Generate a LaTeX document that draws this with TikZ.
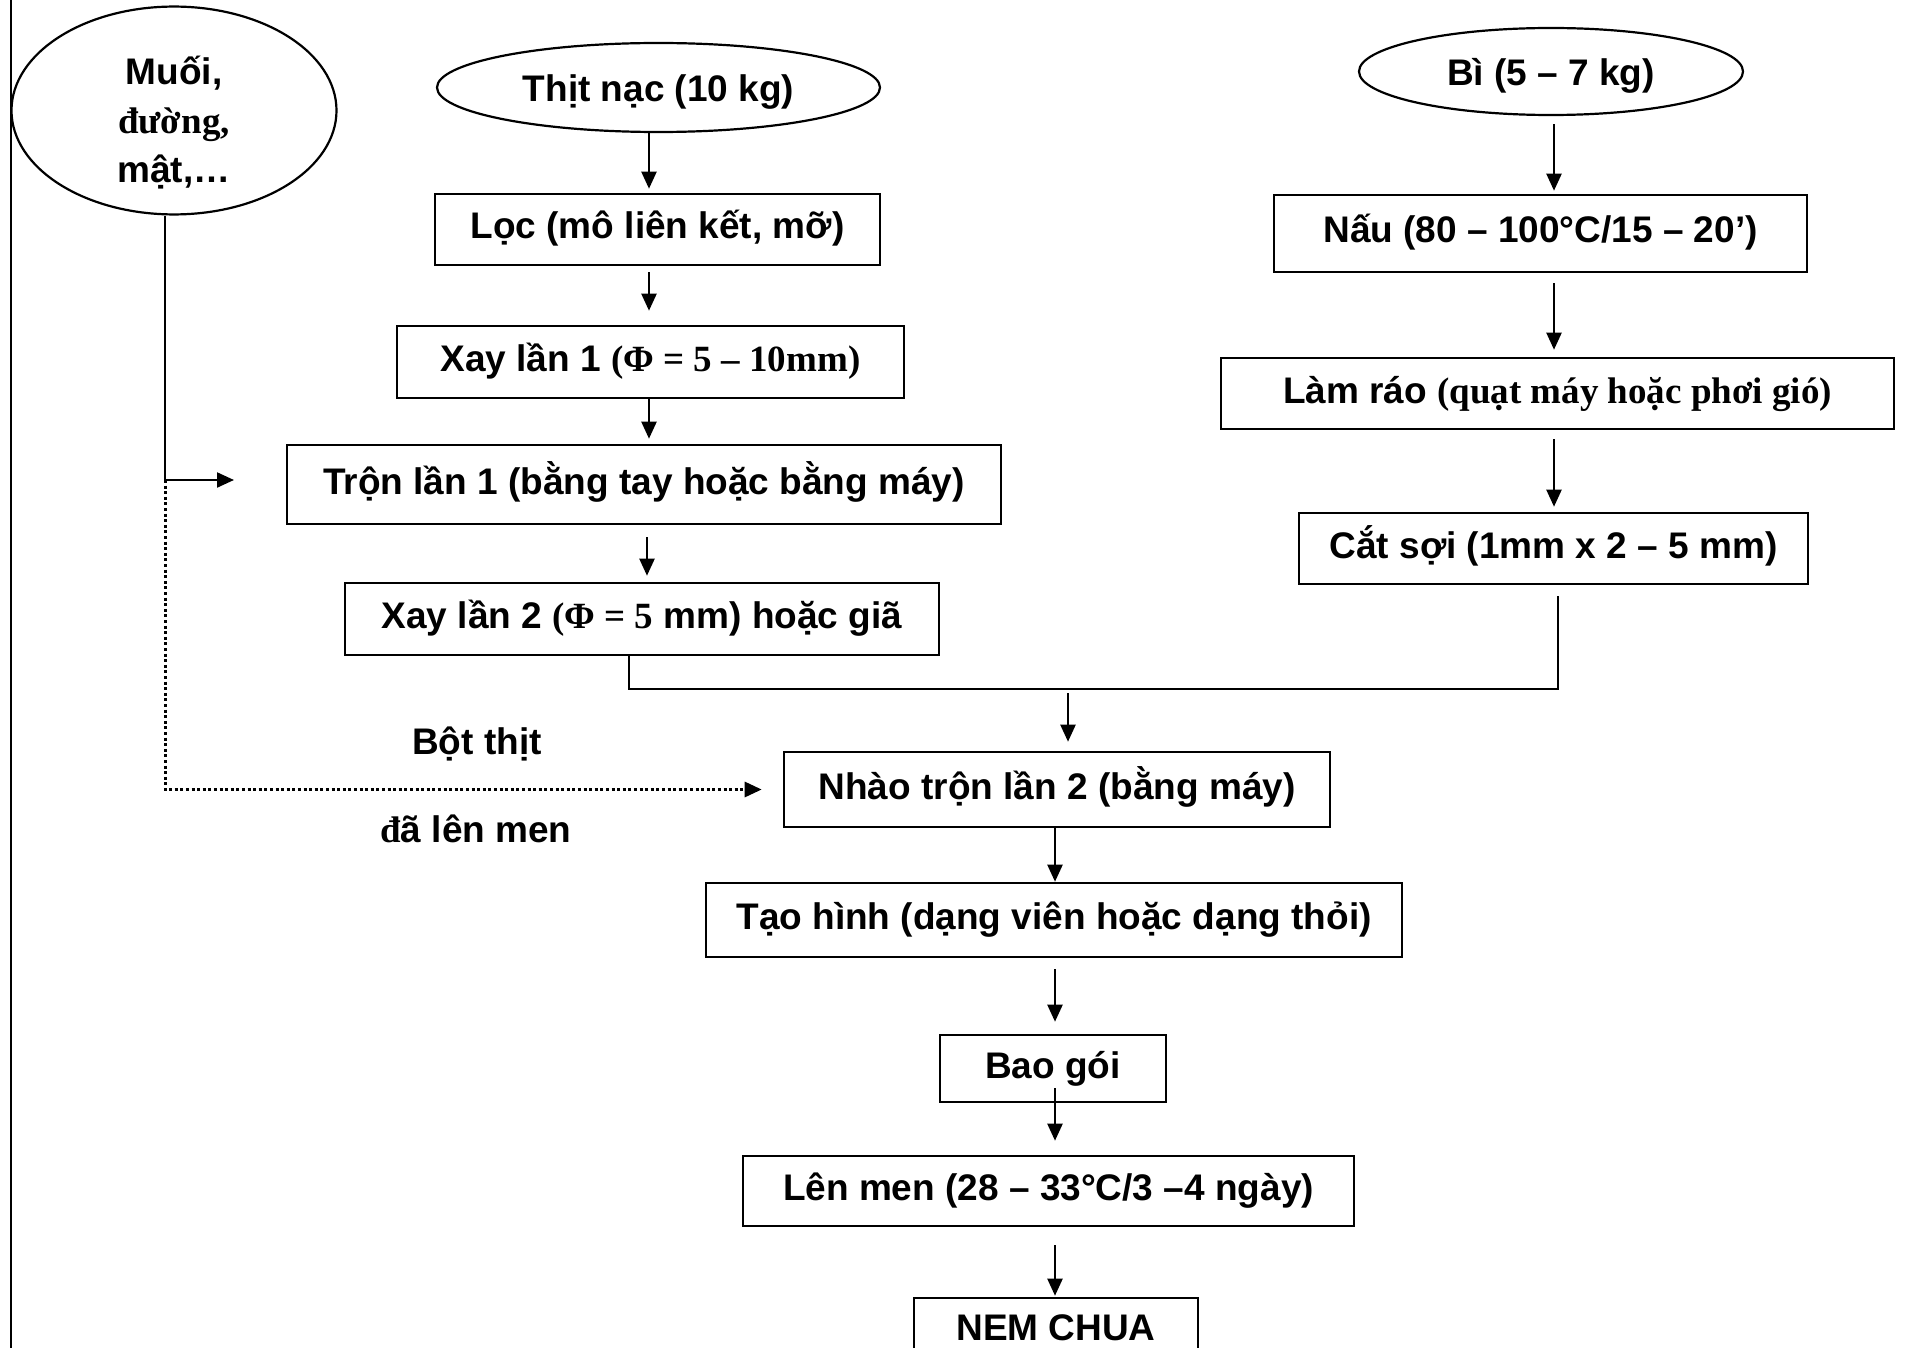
\documentclass[tikz,border=0pt]{standalone}
\usepackage{fontspec}
\setmainfont{Liberation Sans}
\newfontfamily\serifb{Liberation Serif}
\usetikzlibrary{arrows.meta,shapes.geometric}
\tikzset{
  base/.style={font=\fontsize{37}{44}\selectfont\bfseries, inner sep=0pt},
  th/.style={text height=27pt, text depth=8pt},
  thlow/.style={text height=37pt, text depth=8pt},
  pbox/.style={base, th, draw, rectangle, line width=2.6pt},
  oval/.style={base, draw, ellipse, line width=2.2pt},
  lbl/.style={base, th},
  conn/.style={line width=2.2pt},
  arr/.style={conn, -{Triangle[length=17pt,width=15pt]}},
  dotarr/.style={arr, line width=3pt, dash pattern=on 3pt off 2.6pt},
}
\begin{document}
\begin{tikzpicture}[x=1pt,y=-1pt]
\clip (0,0) rectangle (1912,1348);
\useasboundingbox (0,0) rectangle (1912,1348);
\fill[white] (0,0) rectangle (1912,1348);
% frame line
\draw[line width=2.2pt] (11,0) -- (11,1348);

% left inputs
\node[oval, minimum width=325pt, minimum height=197pt] (muoi) at (174,110.5)
  {\raisebox{-13pt}[\height][\depth]{\fontsize{37}{49}\selectfont\begin{tabular}{@{}c@{}}Muối,\\{\serifb đường,}\\mật,…\end{tabular}}};
\node[oval, thlow, minimum width=443pt, minimum height=89pt] (thit) at (658.5,87.5) {Thịt nạc (10 kg)};
\node[oval, thlow, minimum width=384pt, minimum height=87pt] (bi) at (1551,71.5) {Bì (5 – 7 kg)};

% left column
\node[pbox, minimum width=445pt, minimum height=71pt] (loc) at (657.5,229.5) {Lọc (mô liên kết, mỡ)};
\node[pbox, minimum width=507pt, minimum height=72pt] (xay1) at (650.5,362) {Xay lần 1 {\serifb(Φ = 5 – 10mm)}};
\node[pbox, minimum width=714pt, minimum height=79pt] (tron) at (644,484.5) {Trộn lần 1 (bằng tay hoặc bằng máy)};
\node[pbox, minimum width=594pt, minimum height=72pt] (xay2) at (642,619) {Xay lần 2 {\serifb(Φ = 5} mm) hoặc giã};

% right column
\node[pbox, minimum width=533pt, minimum height=77pt] (nau) at (1540.5,233.5) {Nấu (80 – 100°C/15 – 20’)};
\node[pbox, minimum width=673pt, minimum height=71pt] (lam) at (1557.5,393.5) {Làm ráo {\serifb(quạt máy hoặc phơi gió)}};
\node[pbox, minimum width=509pt, minimum height=71pt] (cat) at (1553.5,548.5) {Cắt sợi (1mm x 2 – 5 mm)};

% centre column
\node[pbox, minimum width=546pt, minimum height=75pt] (nhao) at (1057,789.5) {Nhào trộn lần 2 (bằng máy)};
\node[pbox, minimum width=696pt, minimum height=74pt] (tao) at (1054,920) {Tạo hình (dạng viên hoặc dạng thỏi)};
\node[pbox, minimum width=226pt, minimum height=67pt] (bao) at (1053,1068.5) {Bao gói};
\node[pbox, minimum width=611pt, minimum height=70pt] (len) at (1048.5,1191) {Lên men (28 – 33°C/3 –4 ngày)};
\node[pbox, text depth=17pt, minimum width=284pt, minimum height=74pt] (nem) at (1056,1335) {NEM CHUA};

% labels of the dotted connector
\node[lbl] (bot) at (477,745) {Bột thịt};
\node[lbl] (dalen) at (476,833) {{\serifb đ}ã lên men};

% column x positions
\coordinate (cL) at (649,0);
\coordinate (cL2) at (647,0);
\coordinate (cX) at (629,0);
\coordinate (cR) at (1554,0);
\coordinate (cR2) at (1558,0);
\coordinate (cM) at (1068,0);
\coordinate (cC) at (1055,0);
\coordinate (cMu) at (165,0);
\coordinate (jl) at (629,689);
\coordinate (jr) at (1558,689);
\coordinate (mk) at (165,480);
\coordinate (mtip) at (234,480);

% left column arrows
\draw[arr, shorten >=4pt] (cL |- thit.south) -- (cL |- loc.north);
\draw[arr, shorten <=6pt, shorten >=14pt] (cL |- loc.south) -- (cL |- xay1.north);
\draw[arr, shorten >=5pt] (cL |- xay1.south) -- (cL |- tron.north);
\draw[arr, shorten <=12pt, shorten >=6pt] (cL2 |- tron.south) -- (cL2 |- xay2.north);

% right column arrows
\draw[arr, shorten <=8pt, shorten >=3pt] (cR |- bi.south) -- (cR |- nau.north);
\draw[arr, shorten <=10pt, shorten >=7pt] (cR |- nau.south) -- (cR |- lam.north);
\draw[arr, shorten <=9pt, shorten >=5pt] (cR |- lam.south) -- (cR |- cat.north);

% joining line
\draw[conn] (cX |- xay2.south) -- (jl) -- (jr) -- ([yshift=-11pt]cR2 |- cat.south);
\draw[arr, shorten <=4pt, shorten >=9pt] (cM |- jr) -- (cM |- nhao.north);

% centre column arrows
\draw[arr] (cC |- nhao.south) -- (cC |- tao.north);
\draw[arr, shorten <=11pt, shorten >=12pt] (cC |- tao.south) -- (cC |- bao.north);
\draw[arr, shorten >=14pt] ([yshift=15pt]cC |- bao.south) -- (cC |- len.north);
\draw[arr, shorten <=18pt, shorten >=1pt] (cC |- len.south) -- (cC |- nem.north);

% additives
\draw[conn] (cMu |- muoi.south) -- (mk);
\draw[arr] (mk) -- (mtip);
\draw[dotarr, shorten >=21pt] (mk) -- (mk |- nhao.west) -- (nhao.west);
\end{tikzpicture}
\end{document}
